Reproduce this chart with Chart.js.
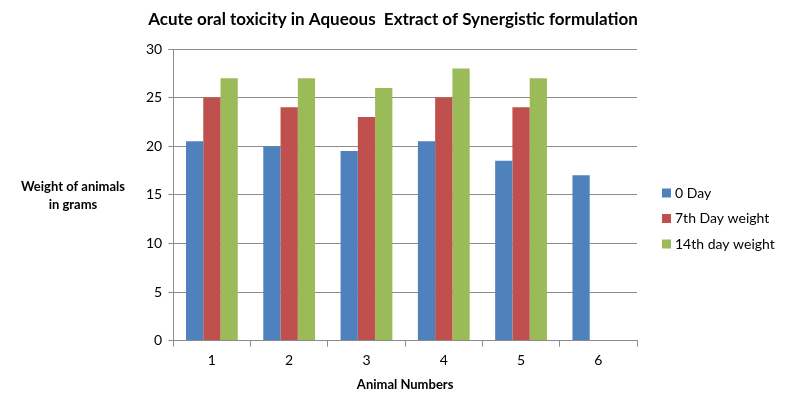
<!DOCTYPE html>
<html>
<head>
<meta charset="utf-8">
<script src="https://cdn.jsdelivr.net/npm/chart.js"></script>
<style>
  body { margin: 0; background: #fff; }
  #wrap { width: 787px; height: 402px; }
</style>
</head>
<body>
<div id="wrap"><canvas id="myChart"></canvas></div>
<script>
// values
const animals = ['1', '2', '3', '4', '5', '6'];
const day0 = [20.5, 20, 19.5, 20.5, 18.5, 17];
const day7 = [25, 24, 23, 25, 24, null];
const day14 = [27, 27, 26, 28, 27, null];
const yTicks = [0, 5, 10, 15, 20, 25, 30];

const fontFamily = 'Lato, "Open Sans", sans-serif';
const chartTitle = 'Acute oral toxicity in Aqueous  Extract of Synergistic formulation';

// title, horizontal y title and legend are placed like the Excel original
const decorations = {
    id: 'decorations',
    afterDraw(chart) {
        const ctx = chart.ctx;
        const mid = (chart.chartArea.top + chart.chartArea.bottom) / 2;
        ctx.save();
        ctx.fillStyle = '#000';
        ctx.textBaseline = 'middle';

        ctx.textAlign = 'center';
        ctx.font = 'bold 17px ' + fontFamily;
        ctx.fillText(chartTitle, 393, 20);

        ctx.font = 'bold 13px ' + fontFamily;
        ctx.fillText('Weight of animals', 73, mid - 8);
        ctx.fillText('in grams', 73, mid + 10);

        // legend
        ctx.textAlign = 'left';
        ctx.font = '14px ' + fontFamily;
        chart.data.datasets.forEach((ds, i) => {
            const y = 193 + i * 25.5;
            ctx.fillStyle = ds.backgroundColor;
            ctx.fillRect(662, y - 4.5, 9, 9);
            ctx.fillStyle = '#000';
            ctx.fillText(ds.label, 675, y);
        });
        ctx.restore();
    }
};

const ctx = document.getElementById('myChart').getContext('2d');
new Chart(ctx, {
    type: 'bar',
    data: {
        labels: animals,
        datasets: [
            { label: '0 Day', data: day0, backgroundColor: '#4F81BD' },
            { label: '7th Day weight', data: day7, backgroundColor: '#C0504D' },
            { label: '14th day weight', data: day14, backgroundColor: '#9BBB59' },
        ],
    },
    options: {
        responsive: true,
        maintainAspectRatio: false,
        animation: false,
        layout: { padding: { left: 140, top: 49, right: 150, bottom: 5 } },
        datasets: {
            bar: { categoryPercentage: 0.67, barPercentage: 1.0 }
        },
        plugins: {
            title: { display: false },
            legend: { display: false },
            tooltip: { enabled: false },
        },
        scales: {
            x: {
                grid: { drawOnChartArea: false, color: '#8c8c8c', tickLength: 6 },
                border: { color: '#8c8c8c' },
                ticks: { color: '#000', font: { family: fontFamily, size: 14 }, padding: 5 },
                title: {
                    display: true,
                    text: 'Animal Numbers',
                    color: '#000',
                    font: { family: fontFamily, size: 13, weight: 'bold' },
                    padding: { top: 4 },
                },
            },
            y: {
                min: 0,
                max: 30,
                afterBuildTicks(axis) { axis.ticks = yTicks.map(v => ({ value: v })); },
                grid: { color: '#8c8c8c', tickLength: 5 },
                border: { color: '#8c8c8c' },
                ticks: { color: '#000', font: { family: fontFamily, size: 14 }, padding: 6 },
            },
        },
    },
    plugins: [decorations],
});
</script>
</body>
</html>
